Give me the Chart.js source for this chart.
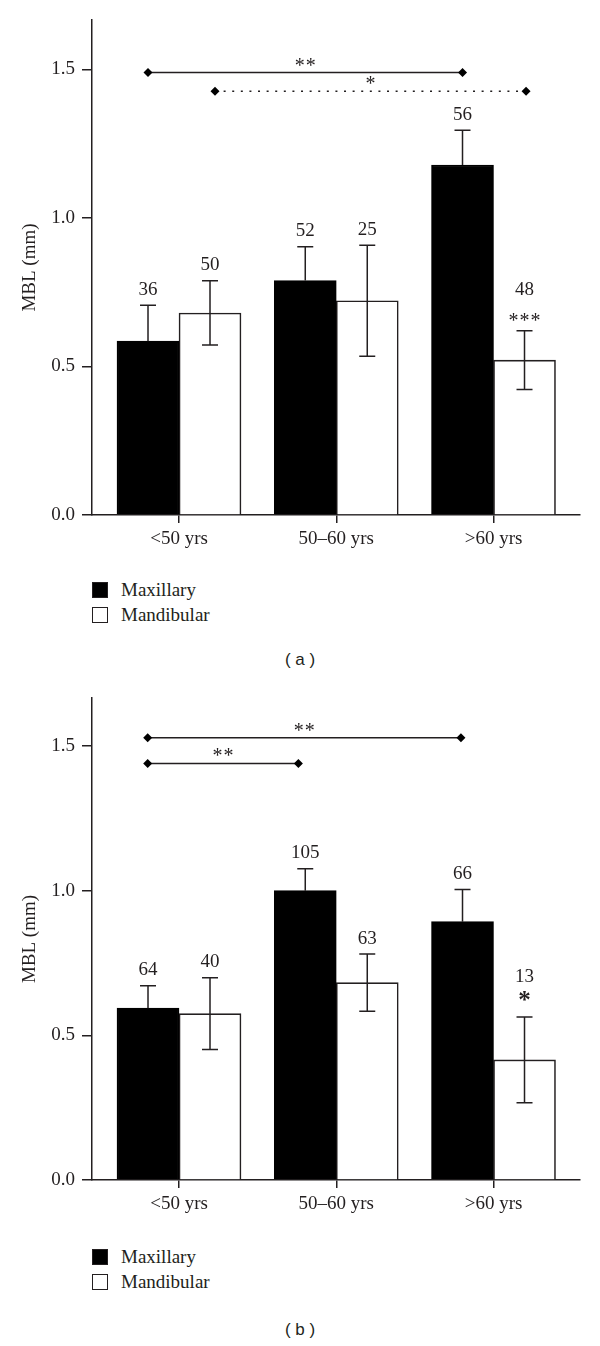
<!DOCTYPE html>
<html>
<head>
<meta charset="utf-8">
<script src="https://cdn.jsdelivr.net/npm/chart.js@4.4.1/dist/chart.umd.min.js"></script>
<style>
  body { margin: 0; background: #fff; width: 600px; height: 1346px; position: relative; overflow: hidden;
         font-family: "Liberation Serif", serif; color: #231f20; }
  canvas { position: absolute; left: 0; }
  .item { position: absolute; left: 92px; height: 16px; display: flex; align-items: center; font-size: 19px; }
  .box { width: 16px; height: 16px; box-sizing: border-box; border: 1.5px solid #231f20; margin-right: 13px; }
  .cap { position: absolute; left: 0; width: 600px; text-align: center; font-family: "Liberation Sans", sans-serif; font-size: 17px; }
</style>
</head>
<body>
<canvas id="chartA" width="600" height="560" style="top:0px"></canvas>
<canvas id="chartB" width="600" height="560" style="top:678px"></canvas>

<div class="item" style="top:582px"><div class="box" style="background:#000"></div>Maxillary</div>
<div class="item" style="top:607px"><div class="box" style="background:#fff"></div>Mandibular</div>
<div class="cap" style="top:650px">( a )</div>

<div class="item" style="top:1249px"><div class="box" style="background:#000"></div>Maxillary</div>
<div class="item" style="top:1274px"><div class="box" style="background:#fff"></div>Mandibular</div>
<div class="cap" style="top:1320px">( b )</div>

<script>
var categories = ["<50 yrs", "50\u201360 yrs", ">60 yrs"];
var yTicks = [0, 0.5, 1.0, 1.5];

// panel (a)
var maxillaryA = [0.585, 0.789, 1.178];
var maxillarySdA = [0.121, 0.114, 0.117];
var mandibularA = [0.680, 0.721, 0.521];
var mandibularSdA = [0.108, 0.187, 0.099];
var maxillaryNA = [36, 52, 56];
var mandibularNA = [50, 25, 48];
var mandibularStarsA = ["", "", "***"];
var bracketFromA = [-0.197, 0.229];
var bracketToA = [1.803, 2.207];
var bracketLevelA = [1.489, 1.426];
var bracketStarsA = ["**", "*"];

// panel (b)
var maxillaryB = [0.594, 1.000, 0.893];
var maxillarySdB = [0.077, 0.076, 0.111];
var mandibularB = [0.575, 0.682, 0.415];
var mandibularSdB = [0.124, 0.099, 0.148];
var maxillaryNB = [64, 105, 66];
var mandibularNB = [40, 63, 13];
var mandibularStarsB = ["", "", "*"];
var bracketFromB = [-0.199, -0.199];
var bracketToB = [1.793, 0.759];
var bracketLevelB = [1.529, 1.440];
var bracketStarsB = ["**", "**"];

var ink = "#231f20";
Chart.defaults.font.family = "'Liberation Serif', serif";
Chart.defaults.font.size = 19;
Chart.defaults.color = ink;

// stars are drawn one by one so they keep the wide spacing of the original
function drawStars(ctx, str, cx, cy) {
  ctx.font = "20px 'Liberation Serif'";
  var n = str.length, gap = 11;
  for (var k = 0; k < n; k++) {
    ctx.fillText("*", cx + (k - (n - 1) / 2) * gap, cy + 10);
  }
}

// error bars, sample sizes and significance marks
var annotations = {
  id: "annotations",
  afterDatasetsDraw: function(chart, args, o) {
    var ctx = chart.ctx;
    var y = chart.scales.y, x = chart.scales.x;
    ctx.save();
    ctx.strokeStyle = ink;
    ctx.fillStyle = ink;
    ctx.lineWidth = 1.5;
    ctx.textAlign = "center";
    ctx.textBaseline = "alphabetic";
    [0, 1].forEach(function(d) {
      var meta = chart.getDatasetMeta(d);
      meta.data.forEach(function(bar, i) {
        var m = o.means[d][i], s = o.sds[d][i];
        var top = y.getPixelForValue(m + s), bot = y.getPixelForValue(m - s);
        var bx = bar.x;
        ctx.beginPath();
        ctx.moveTo(bx - 8, top); ctx.lineTo(bx + 8, top);
        if (d === 0) {
          // only the upper half shows above a black bar
          ctx.moveTo(bx, top); ctx.lineTo(bx, bar.y);
        } else {
          ctx.moveTo(bx, top); ctx.lineTo(bx, bot);
          ctx.moveTo(bx - 8, bot); ctx.lineTo(bx + 8, bot);
        }
        ctx.stroke();
        var star = d === 1 ? o.stars[i] : "";
        if (star) {
          if (o.boldStar) {
            ctx.font = "bold 25px 'Liberation Serif'";
            ctx.fillText(star, bx, top - 21 + 12);
          } else {
            drawStars(ctx, star, bx, top - 14);
          }
        }
        ctx.font = "19px 'Liberation Serif'";
        ctx.fillText(String(o.ns[d][i]), bx, top - (star ? 42 : 17) + 6.5);
      });
    });
    o.bracketStars.forEach(function(st, k) {
      var cx = (x.getPixelForValue(o.from[k]) + x.getPixelForValue(o.to[k])) / 2;
      var ly = y.getPixelForValue(o.level[k]);
      drawStars(ctx, st, cx, ly - 11);
    });
    ctx.restore();
  }
};

function makeChart(id, p) {
  var datasets = [
    {
      type: "bar", label: "Maxillary",
      data: p.means[0].map(function(v, i) { return { x: i, y: v }; }),
      backgroundColor: "#000", borderColor: "#000", borderWidth: 1.5, barThickness: 62
    },
    {
      type: "bar", label: "Mandibular",
      data: p.means[1].map(function(v, i) { return { x: i, y: v }; }),
      backgroundColor: "#fff", borderColor: ink, borderWidth: 1.6, barThickness: 62
    }
  ];
  p.from.forEach(function(f, k) {
    datasets.push({
      type: "line",
      data: [{ x: f, y: p.level[k] }, { x: p.to[k], y: p.level[k] }],
      borderColor: ink, borderWidth: 1.5,
      borderDash: p.dotted[k] ? [2, 6.6] : [],
      pointStyle: "rectRot", pointRadius: 4.5, pointBorderWidth: 0,
      pointBackgroundColor: "#000", fill: false, tension: 0
    });
  });

  return new Chart(document.getElementById(id), {
    type: "bar",
    data: { datasets: datasets },
    options: {
      responsive: false,
      animation: false,
      layout: { padding: { top: 20, right: 20, left: 0, bottom: 0 } },
      plugins: {
        legend: { display: false },
        tooltip: { enabled: false },
        annotations: p
      },
      scales: {
        x: {
          type: "linear",
          offset: false,
          min: -0.5533, max: 2.55,
          afterFit: function(s) { s.height = p.xHeight; },
          afterBuildTicks: function(s) {
            s.ticks = categories.map(function(c, i) { return { value: i }; });
          },
          ticks: {
            padding: 5, maxRotation: 0, autoSkip: false,
            callback: function(v) { return categories[v]; }
          },
          grid: { offset: false, drawOnChartArea: false, tickLength: 8, color: ink, lineWidth: 1.5 },
          border: { color: ink, width: 1.5 }
        },
        y: {
          min: 0, max: 1.666,
          afterFit: function(s) { s.width = 92; },
          afterBuildTicks: function(s) {
            s.ticks = yTicks.map(function(v) { return { value: v }; });
          },
          ticks: { padding: 7, callback: function(v) { return v.toFixed(1); } },
          grid: { drawOnChartArea: false, tickLength: 10, color: ink, lineWidth: 1.5 },
          border: { color: ink, width: 1.5 },
          title: { display: true, text: "MBL (mm)", font: { size: 19 }, padding: { top: 19, bottom: 0 } }
        }
      }
    },
    plugins: [annotations]
  });
}

makeChart("chartA", {
  means: [maxillaryA, mandibularA],
  sds: [maxillarySdA, mandibularSdA],
  ns: [maxillaryNA, mandibularNA],
  stars: mandibularStarsA,
  boldStar: false,
  from: bracketFromA, to: bracketToA, level: bracketLevelA, bracketStars: bracketStarsA,
  dotted: [false, true],
  xHeight: 45
});

makeChart("chartB", {
  means: [maxillaryB, mandibularB],
  sds: [maxillarySdB, mandibularSdB],
  ns: [maxillaryNB, mandibularNB],
  stars: mandibularStarsB,
  boldStar: true,
  from: bracketFromB, to: bracketToB, level: bracketLevelB, bracketStars: bracketStarsB,
  dotted: [false, false],
  xHeight: 58
});
</script>
</body>
</html>
